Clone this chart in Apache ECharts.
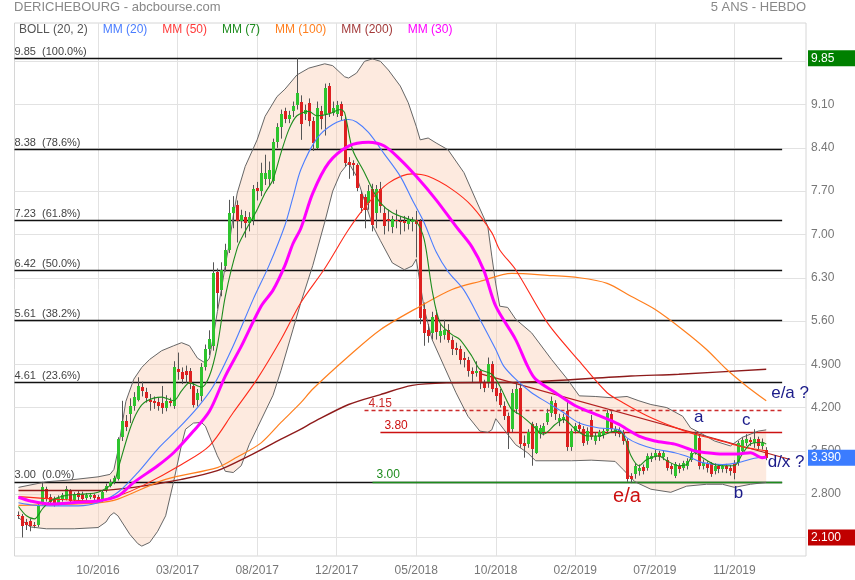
<!DOCTYPE html>
<html><head><meta charset="utf-8">
<script src="https://cdn.jsdelivr.net/npm/echarts@6/dist/echarts.min.js"></script>
<style>html,body{margin:0;padding:0;background:#fff}#c{width:855px;height:580px}</style>
</head><body><div id="c"></div>
<script>
// ---------- DATA ----------
const firstWeek = '2016-06-06';
const weekCount = 200;
// weekly candles [open, close, low, high], weeks 1..189
const candles = [
[2.47,2.45,2.40,2.52],[2.45,2.28,2.10,2.48],[2.35,2.30,2.22,2.40],[2.37,2.29,2.20,2.40],[2.30,2.28,2.25,2.35],
[2.30,2.62,2.27,2.66],[2.66,2.92,2.62,3.00],[2.88,2.72,2.68,2.92],[2.76,2.68,2.63,2.80],[2.72,2.65,2.60,2.76],
[2.66,2.74,2.62,2.78],[2.72,2.78,2.68,2.82],[2.72,2.88,2.70,2.93],[2.86,2.69,2.66,2.88],[2.70,2.80,2.67,2.83],
[2.82,2.76,2.70,2.85],[2.80,2.72,2.68,2.84],[2.74,2.79,2.70,2.82],[2.76,2.78,2.72,2.82],[2.78,2.74,2.70,2.81],
[2.76,2.69,2.66,2.79],[2.70,2.84,2.67,2.86],[2.86,2.94,2.83,2.97],[2.94,2.99,2.91,3.04],[2.99,3.06,2.96,3.10],
[3.04,3.69,3.02,3.72],[3.72,3.99,3.66,4.31],[3.99,3.89,3.82,4.08],[4.10,4.23,3.95,4.35],[4.23,4.37,4.15,4.45],
[4.33,4.55,4.30,4.69],[4.53,4.47,4.38,4.62],[4.46,4.36,4.28,4.52],[4.33,4.29,4.15,4.42],[4.31,4.27,4.18,4.38],
[4.29,4.22,4.15,4.36],[4.27,4.19,4.10,4.55],[4.20,4.31,4.14,4.40],[4.31,4.27,4.22,4.36],[4.22,4.86,4.18,4.95],
[4.83,4.77,4.65,5.09],[4.78,4.66,4.58,4.85],[4.80,4.72,4.60,4.88],[4.79,4.58,4.50,4.84],[4.55,4.25,4.20,4.60],
[4.33,4.44,4.22,4.50],[4.38,4.85,4.30,4.92],[4.86,5.14,4.80,5.22],[5.14,5.31,5.05,5.45],[5.20,6.38,5.12,6.55],
[6.39,6.06,5.80,6.45],[6.10,6.43,6.00,6.55],[6.49,6.75,6.40,6.85],[6.75,7.35,6.70,7.56],[7.35,7.45,7.10,7.62],
[7.48,7.21,6.87,7.55],[7.21,7.31,7.10,7.40],[7.28,7.18,6.95,7.38],[7.18,7.28,7.05,7.36],[7.24,7.74,7.15,7.80],
[7.75,7.71,7.55,7.85],[7.70,8.00,7.62,8.16],[7.89,8.00,7.80,8.29],[7.90,8.05,7.78,8.18],[7.86,8.49,7.82,8.55],
[8.49,8.73,8.40,8.80],[8.74,8.95,8.55,9.02],[9.00,8.87,8.80,9.05],[8.86,8.93,8.80,9.00],[8.99,9.08,8.90,9.15],
[9.10,9.29,9.02,9.85],[9.14,8.78,8.53,9.25],[8.95,9.02,8.85,9.10],[9.13,8.83,8.75,9.20],[8.83,8.48,8.35,8.90],
[8.40,9.05,8.38,9.15],[8.99,8.86,8.70,9.08],[8.95,9.37,8.60,9.44],[9.40,8.97,8.90,9.45],[8.97,9.05,8.92,9.15],
[8.95,9.10,8.90,9.16],[9.11,8.91,8.85,9.15],[8.86,8.16,8.10,8.92],[8.18,8.13,7.90,8.25],[8.15,8.13,7.95,8.20],
[8.13,7.75,7.70,8.15],[7.66,7.43,7.35,7.70],[7.60,7.40,7.10,7.65],[7.51,7.70,7.40,7.80],[7.73,7.16,7.05,7.82],
[7.35,7.73,7.10,7.80],[7.73,7.46,7.35,7.85],[7.35,7.13,7.00,7.45],[7.25,7.22,7.05,7.40],[7.12,7.25,7.02,7.30],
[7.24,7.21,7.10,7.40],[7.22,7.20,7.00,7.30],[7.22,7.19,7.05,7.30],[7.17,7.25,7.08,7.30],[7.20,7.23,7.05,7.28],
[7.24,7.17,6.63,7.38],[7.21,5.65,5.55,7.25],[5.80,5.40,5.20,5.90],[5.46,5.36,5.25,5.55],[5.41,5.67,5.30,5.75],
[5.70,5.42,5.30,5.78],[5.36,5.44,5.25,5.55],[5.38,5.46,5.30,5.62],[5.46,5.30,5.25,5.55],[5.30,5.14,5.05,5.35],
[5.16,5.13,5.05,5.25],[5.14,4.97,4.90,5.20],[5.00,4.97,4.85,5.10],[4.97,4.79,4.70,5.02],[4.80,4.75,4.60,4.85],
[4.76,4.80,4.70,4.95],[4.79,4.60,4.50,4.82],[4.60,4.52,4.45,4.65],[4.60,4.91,4.52,5.01],[4.91,4.50,4.45,4.95],
[4.52,4.39,4.30,4.60],[4.44,4.25,4.20,4.50],[4.23,4.07,4.00,4.30],[4.07,3.80,3.53,4.12],[3.85,4.43,3.80,4.50],
[4.17,4.50,4.10,4.60],[4.51,3.61,3.55,4.60],[3.63,3.58,3.39,3.75],[3.61,3.80,3.55,3.85],[3.93,3.53,3.26,3.97],
[3.47,3.90,3.45,3.95],[3.77,3.87,3.70,3.92],[3.80,3.90,3.75,3.95],[3.96,4.12,3.92,4.18],[4.12,4.31,4.05,4.38],
[4.28,4.09,4.00,4.32],[3.98,4.03,3.90,4.10],[4.00,4.04,3.95,4.10],[4.15,3.56,3.50,4.30],[3.56,3.82,3.50,3.86],
[3.82,3.90,3.78,3.95],[3.92,3.86,3.80,3.97],[3.85,3.63,3.58,3.90],[3.66,3.82,3.60,3.88],[4.00,3.73,3.68,4.08],
[3.66,3.74,3.60,3.80],[3.72,3.80,3.66,3.84],[3.76,3.82,3.70,3.86],[3.82,4.12,3.80,4.16],[4.10,3.85,3.80,4.14],
[3.80,3.86,3.74,3.90],[3.84,3.77,3.72,3.88],[3.80,3.66,3.60,3.84],[3.66,3.04,3.00,3.70],[3.09,3.04,2.98,3.14],
[3.12,3.26,3.05,3.30],[3.17,3.23,3.10,3.28],[3.24,3.18,3.12,3.28],[3.22,3.42,3.18,3.46],[3.37,3.42,3.32,3.47],
[3.40,3.47,3.35,3.52],[3.46,3.40,3.34,3.50],[3.40,3.46,3.35,3.50],[3.36,3.23,3.18,3.40],[3.26,3.20,3.12,3.30],
[3.10,3.28,3.06,3.32],[3.25,3.20,3.14,3.30],[3.22,3.30,3.18,3.34],[3.26,3.34,3.20,3.38],[3.36,3.46,3.32,3.50],
[3.47,3.77,3.44,3.81],[3.71,3.26,3.20,3.76],[3.25,3.31,3.20,3.36],[3.29,3.22,3.15,3.33],[3.28,3.13,3.08,3.32],
[3.18,3.26,3.12,3.30],[3.25,3.20,3.14,3.28],[3.20,3.25,3.15,3.28],[3.25,3.20,3.14,3.29],[3.23,3.17,3.10,3.27],
[3.31,3.15,3.04,3.35],[3.31,3.63,3.26,3.66],[3.50,3.68,3.46,3.72],[3.62,3.70,3.58,3.77],[3.68,3.64,3.58,3.72],
[3.62,3.70,3.55,3.85],[3.69,3.58,3.52,3.73],[3.58,3.62,3.52,3.70],[3.52,3.39,3.35,3.56]
];
// indicator lines: [week index, value]
const bollUpper = [[1,2.91],[8,3.0],[14,3.03],[21,3.08],[24,3.12],[25,3.2],[26,3.5],[27,3.9],[28,4.3],[30,4.66],[32,4.85],[34,4.98],[37,5.12],[40,5.2],[42,5.25],[44,5.2],[46,5.0],[48,4.92],[49,5.0],[50,5.35],[51,5.75],[52,6.1],[53,6.5],[54,6.85],[55,7.3],[56,7.67],[58,8.1],[61,8.53],[63,8.91],[66,9.23],[68,9.35],[71,9.58],[74,9.69],[78,9.76],[80,9.73],[83,9.55],[84,9.53],[86,9.61],[88,9.8],[90,9.84],[92,9.8],[94,9.66],[97,9.40],[99,9.13],[101,8.75],[102,8.53],[104,8.56],[106,8.48],[109,8.37],[113,8.0],[116,7.56],[119,7.13],[120,6.65],[121,6.2],[122,5.84],[124,5.82],[126,5.63],[130,5.41],[135,4.98],[139,4.66],[142,4.39],[146,4.38],[150,4.36],[154,4.38],[157,4.31],[160,4.25],[164,4.2],[168,4.06],[170,3.87],[173,3.77],[176,3.66],[180,3.58],[183,3.72],[187,3.82],[189,3.84]];
const bollLower = [[1,2.42],[4,2.27],[8,2.24],[15,2.24],[21,2.26],[23,2.35],[24,2.45],[25,2.5],[26,2.45],[27,2.35],[29,2.15],[31,2.0],[32,1.96],[34,2.02],[36,2.2],[38,2.45],[40,3.0],[42,3.6],[43,3.85],[45,3.95],[47,3.96],[48,3.9],[49,3.74],[51,3.42],[53,3.17],[55,3.15],[57,3.26],[59,3.6],[62,4.0],[65,4.4],[67,4.8],[70,5.46],[72,5.9],[75,6.5],[78,7.2],[80,7.7],[82,8.0],[84,8.16],[86,7.94],[88,7.55],[90,7.15],[92,6.9],[95,6.54],[98,6.43],[100,6.49],[101,6.6],[102,6.2],[103,5.8],[105,5.3],[108,4.87],[111,4.44],[114,4.06],[117,3.82],[119,3.8],[120,3.84],[121,4.02],[123,3.85],[126,3.6],[129,3.47],[131,3.34],[140,3.34],[145,3.35],[151,3.33],[153,3.2],[156,3.0],[160,2.88],[165,2.83],[169,2.93],[174,2.96],[178,2.96],[181,2.91],[185,2.96],[189,2.99]];
const ma7 = [[1,2.60],[3,2.45],[5,2.40],[7,2.56],[9,2.69],[13,2.78],[17,2.80],[21,2.83],[25,3.0],[26,3.2],[29,3.85],[31,4.15],[33,4.30],[37,4.37],[40,4.31],[42,4.47],[44,4.60],[47,4.53],[49,4.71],[51,5.2],[53,6.0],[56,6.78],[58,7.05],[61,7.40],[63,7.67],[65,7.89],[67,8.32],[69,8.70],[71,8.92],[74,8.99],[76,8.92],[79,8.95],[82,9.02],[83,8.97],[85,8.37],[88,8.0],[90,7.73],[92,7.51],[95,7.35],[99,7.25],[101,7.21],[103,6.92],[105,6.1],[107,5.57],[110,5.38],[112,5.30],[115,5.03],[117,4.82],[120,4.74],[122,4.55],[125,4.17],[127,4.09],[130,3.93],[133,3.77],[136,3.93],[138,4.01],[141,3.85],[144,3.74],[147,3.74],[151,3.82],[153,3.77],[155,3.42],[157,3.26],[159,3.36],[162,3.42],[164,3.34],[167,3.26],[169,3.28],[171,3.47],[173,3.39],[176,3.28],[179,3.26],[181,3.26],[183,3.45],[185,3.61],[188,3.64],[189,3.61]];
const ma20 = [[1,2.66],[5,2.62],[9,2.61],[16,2.61],[21,2.66],[26,2.83],[31,3.15],[36,3.53],[41,3.85],[46,4.2],[50,4.55],[55,5.2],[60,5.95],[64,6.5],[68,7.15],[70,7.6],[72,8.05],[76,8.55],[80,8.78],[84,8.86],[86,8.82],[89,8.65],[93,8.3],[97,7.94],[100,7.56],[103,7.19],[106,6.72],[109,6.4],[113,6.1],[117,5.63],[121,5.14],[123,4.87],[126,4.66],[130,4.44],[134,4.28],[138,4.12],[142,3.95],[147,3.87],[152,3.84],[154,3.71],[157,3.61],[161,3.53],[166,3.47],[170,3.39],[173,3.31],[178,3.28],[182,3.31],[186,3.38],[189,3.41]];
const ma30 = [[1,2.75],[4,2.69],[9,2.64],[16,2.67],[21,2.69],[26,2.77],[30,2.99],[36,3.26],[40,3.47],[45,3.82],[49,4.14],[53,4.71],[57,5.19],[62,5.84],[65,6.1],[68,6.5],[70,6.85],[72,7.1],[75,7.67],[79,8.16],[84,8.43],[89,8.49],[93,8.43],[97,8.21],[101,7.94],[106,7.56],[111,7.13],[115,6.8],[118,6.42],[121,5.84],[126,5.30],[129,4.87],[131,4.66],[136,4.44],[141,4.23],[147,4.07],[152,3.93],[154,3.85],[157,3.74],[161,3.66],[166,3.61],[171,3.50],[174,3.47],[178,3.45],[182,3.45],[185,3.47],[188,3.39],[189,3.40]];
const ma50 = [[1,2.76],[10,2.72],[21,2.69],[26,2.77],[32,2.93],[42,3.28],[49,3.58],[55,4.12],[61,4.66],[67,5.30],[72,5.9],[78,6.45],[84,7.08],[89,7.51],[94,7.83],[100,7.98],[104,7.94],[110,7.73],[115,7.46],[120,7.03],[122,6.75],[126,6.43],[134,5.57],[142,4.95],[149,4.44],[153,4.28],[159,4.07],[166,3.88],[171,3.77],[176,3.69],[182,3.58],[186,3.53],[189,3.50]];
const ma100 = [[1,2.62],[10,2.63],[21,2.66],[26,2.72],[38,3.04],[51,3.23],[56,3.40],[62,3.63],[67,3.96],[72,4.28],[75,4.5],[84,5.03],[92,5.46],[102,5.84],[110,6.11],[117,6.24],[125,6.37],[134,6.34],[142,6.30],[149,6.21],[155,6.0],[161,5.79],[168,5.46],[174,5.14],[179,4.82],[184,4.55],[189,4.31]];
const ma200 = [[1,2.86],[21,2.86],[30,2.91],[42,3.04],[51,3.18],[59,3.42],[67,3.69],[72,3.85],[75,3.96],[84,4.25],[92,4.41],[100,4.56],[109,4.60],[127,4.61],[155,4.71],[167,4.74],[189,4.82]];
// horizontal levels
const fibValues = [9.85, 8.38, 7.23, 6.42, 5.61, 4.61, 3.00];
const fibPercents = ['100.0%', '78.6%', '61.8%', '50.0%', '38.2%', '23.6%', '0.0%'];
const levelValues = [4.15, 3.80, 3.00];
const levelStartWeeks = [88, 92, 90];
const trendLine = [[117, 4.75], [195, 3.36]];
// annotations [text, week, value]
const annotations = [['a',172,4.04],['c',183.8,3.99],['b',182.3,2.81],['d/x ?',193.5,3.31],['e/a ?',194.5,4.43]];
const annotationsRed = [['e/a',154.4,2.76]];
// y tick labels
const yTickValues = [2.1, 2.8, 3.5, 4.2, 4.9, 5.6, 6.3, 7.0, 7.7, 8.4, 9.1, 9.8];
const yTickLabels = ['2.100','2.800','3.500','4.200','4.900','5.60','6.30','7.00','7.70','8.40','9.10','9.80'];
const legendNames = ['BOLL (20, 2)','MM (20)','MM (50)','MM (7)','MM (100)','MM (200)','MM (30)'];

// ---------- BUILD ----------
const weeks = [];
{
  const d0 = new Date(firstWeek + 'T00:00:00Z');
  for (let k = 0; k < weekCount; k++) {
    const d = new Date(d0.getTime() + k * 7 * 86400000);
    weeks.push(d.toISOString().slice(0, 10));
  }
}
const candleData = candles.map((c, k) => [k + 1, c[0], c[1], c[2], c[3]]);
const maxHigh = Math.max.apply(null, candles.map(c => c[3]));
const minLow = Math.min.apply(null, candles.map(c => c[2]));
const lastClose = candles[candles.length - 1][1];
const fmtPrice = v => v < 5 ? v.toFixed(3) : v.toFixed(2);

const C = {
  boll: '#666666', ma20: '#4a7dff', ma50: '#ff2a1a', ma7: '#1e8c1e', ma100: '#ff7f1e', ma200: '#8e1b1b', ma30: '#ff00ff'
};
const legendColors = ['#555555', '#4a7dff', '#ff3b3b', '#1e8c1e', '#ff7f1e', '#a33a3a', '#ff00ff'];
const FONT = '"Liberation Sans", Arial, sans-serif';
const LAST = 193;
const showTick = (i) => i % 20 === 1 && i > 1;

function lineSeries(name, data, color, width, z) {
  return { type: 'line', name, data, showSymbol: false, symbol: 'none', smooth: 0.3,
    lineStyle: { color, width }, itemStyle: { color }, z, silent: true };
}

const fibLines = fibValues.map((v, k) => [
  { coord: [0, v], name: v.toFixed(2) + '  (' + fibPercents[k] + ')',
    lineStyle: { color: '#111', width: 1.3, type: 'solid' },
    label: { show: true, position: 'insideStartTop', formatter: '{b}', color: '#444', fontSize: 11, distance: [0, 1] } },
  { coord: [LAST, v] }
]);
const levelColors = ['#cc2b2b', '#cc1111', '#1e8c1e'];
const levelLines = levelValues.map((v, k) => [
  { coord: [levelStartWeeks[k], v], name: v.toFixed(2),
    lineStyle: { color: levelColors[k], width: 1.4, type: k === 0 ? [4, 3] : 'solid' },
    label: { show: true, position: 'insideStartTop', formatter: '{b}', color: levelColors[k], fontSize: 12, distance: [4, 1] } },
  { coord: [LAST, v] }
]);
const trend = [[
  { coord: trendLine[0], lineStyle: { color: '#b32020', width: 1.2, type: 'solid' }, label: { show: false } },
  { coord: trendLine[1] }
]];

const boxes = [[maxHigh, '#008000'], [lastClose, '#3b7cff'], [minLow, '#c00000']].map(b => ({
  yAxis: b[0],
  lineStyle: { color: 'rgba(0,0,0,0)', width: 1 },
  label: { show: true, position: 'end', distance: 2, formatter: fmtPrice(b[0]), color: '#fff',
    backgroundColor: b[1], fontSize: 12, width: 41, padding: [2, 3, 1, 3], lineHeight: 13, fontFamily: FONT }
}));

function renderCandle(params, api) {
  const i = api.value(0), o = api.value(1), c = api.value(2), l = api.value(3), h = api.value(4);
  const po = api.coord([i, o]), pc = api.coord([i, c]), pl = api.coord([i, l]), ph = api.coord([i, h]);
  const x = Math.round(po[0]);
  const top = Math.round(Math.min(po[1], pc[1]));
  const bot = Math.round(Math.max(po[1], pc[1]));
  return { type: 'group', children: [
    { type: 'line', shape: { x1: x + 0.5, y1: ph[1], x2: x + 0.5, y2: pl[1] }, style: { stroke: '#555', lineWidth: 1 } },
    { type: 'rect', shape: { x: x - 1, y: top, width: 3, height: Math.max(1, bot - top) },
      style: { fill: c >= o ? '#2ec42e' : '#dd2020' } }
  ] };
}
function renderBand(params, api) {
  const pts = bollUpper.map(p => api.coord(p));
  for (let k = bollLower.length - 1; k >= 0; k--) pts.push(api.coord(bollLower[k]));
  return { type: 'polygon', shape: { points: pts }, style: { fill: 'rgba(250,200,170,0.38)' } };
}

const option = {
  animation: false,
  backgroundColor: '#fff',
  textStyle: { fontFamily: FONT },
  title: [
    { text: 'DERICHEBOURG - abcbourse.com', left: 14, top: 1, padding: 0,
      textStyle: { fontSize: 13, fontWeight: 'normal', color: '#888', fontFamily: FONT } },
    { text: '5 ANS - HEBDO', right: 49, top: 1, padding: 0,
      textStyle: { fontSize: 13, fontWeight: 'normal', color: '#888', fontFamily: FONT } }
  ],
  legend: {
    left: 14, top: 23, padding: 0, icon: 'none', itemWidth: 0, itemHeight: 14, itemGap: 10, selectedMode: false,
    textStyle: { fontSize: 12, fontFamily: FONT },
    data: legendNames.map((n, k) => ({ name: n, textStyle: { color: legendColors[k] } }))
  },
  grid: { left: 14.5, right: 49, top: 23, bottom: 24, show: true, borderColor: '#d6d6d6', borderWidth: 1,
    containLabel: false, outerBoundsMode: 'none' },
  xAxis: {
    type: 'category', data: weeks, boundaryGap: false,
    axisLine: { show: false }, axisTick: { show: false },
    axisLabel: { interval: showTick, color: '#777', fontSize: 12, margin: 9,
      formatter: v => v.slice(5, 7) + '/' + v.slice(0, 4) },
    splitLine: { show: true, interval: showTick, lineStyle: { color: '#e2e2e2', width: 1 } }
  },
  yAxis: {
    type: 'value', position: 'right', min: 1.8, max: 10.42,
    axisLine: { show: false }, axisTick: { show: false, customValues: yTickValues },
    axisLabel: { customValues: yTickValues, color: '#777', fontSize: 12, margin: 5,
      formatter: (v) => { let b = 0; yTickValues.forEach((t, k) => { if (Math.abs(t - v) < Math.abs(yTickValues[b] - v)) b = k; }); return yTickLabels[b]; } },
    splitLine: { show: true, lineStyle: { color: '#e2e2e2', width: 1 } }
  },
  series: [
    { type: 'custom', name: 'BOLL (20, 2)', renderItem: renderBand, data: [[1, 3]], z: 1, silent: true,
      encode: { x: 0, y: 1 } },
    { type: 'line', name: 'BOLL (20, 2)', data: bollUpper, showSymbol: false, symbol: 'none',
      lineStyle: { color: C.boll, width: 1 }, itemStyle: { color: C.boll }, z: 2, silent: true,
      markLine: { silent: true, symbol: ['none', 'none'], z: 2, data: fibLines.concat(levelLines).concat(trend) } },
    { type: 'line', name: 'BOLL (20, 2)', data: bollLower, showSymbol: false, symbol: 'none',
      lineStyle: { color: C.boll, width: 1 }, itemStyle: { color: C.boll }, z: 2, silent: true },
    { type: 'custom', name: 'candles', renderItem: renderCandle, data: candleData, z: 3, silent: true,
      encode: { x: 0, y: [1, 2, 3, 4] } },
    lineSeries('MM (200)', ma200, C.ma200, 1.4, 4),
    lineSeries('MM (100)', ma100, C.ma100, 1.2, 4),
    lineSeries('MM (50)', ma50, C.ma50, 1.1, 4),
    lineSeries('MM (20)', ma20, C.ma20, 1.1, 4),
    lineSeries('MM (7)', ma7, C.ma7, 1.1, 5),
    lineSeries('MM (30)', ma30, C.ma30, 3, 5),
    { type: 'line', name: 'marks', data: [], clip: false, z: 10, silent: true,
      markLine: { silent: true, symbol: ['none', 'none'], z: 10, data: boxes },
      markPoint: { silent: true, symbol: 'circle', symbolSize: 1, itemStyle: { color: 'rgba(0,0,0,0)' }, z: 10,
        data: annotations.map(a => ({ coord: [a[1], a[2]], value: a[0],
          label: { show: true, position: 'inside', formatter: a[0], color: '#1b1b8a', fontSize: 17, fontFamily: FONT } }))
        .concat(annotationsRed.map(a => ({ coord: [a[1], a[2]], value: a[0],
          label: { show: true, position: 'inside', formatter: a[0], color: '#cc1010', fontSize: 20, fontFamily: FONT } }))) } }
  ]
};
const chart = echarts.init(document.getElementById('c'), null, { renderer: 'canvas' });
chart.setOption(option);
</script>
</body></html>
